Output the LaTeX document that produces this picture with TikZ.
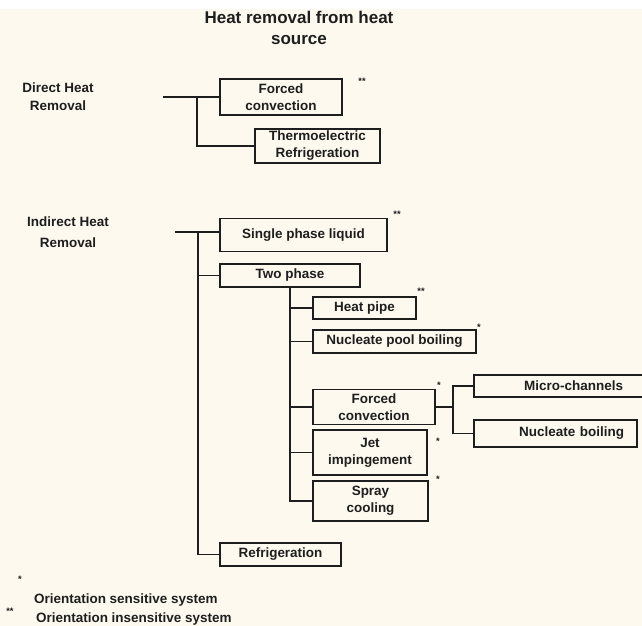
\documentclass[tikz,border=0pt]{standalone}
\usepackage{fontspec}
\setmainfont{Liberation Sans}
\usetikzlibrary{positioning}
\definecolor{paper}{RGB}{253,249,238}
\definecolor{ink}{RGB}{30,30,30}

\begin{document}
\begin{tikzpicture}[x=0.03cm, y=-0.03cm, align=center, text=ink,
    font=\fontsize{11.5}{14.5}\selectfont\bfseries,
    box/.style={draw=ink, line width=1.3pt, inner sep=0pt},
    wire/.style={draw=ink, line width=1.3pt},
    starnote/.style={inner sep=0pt, font=\fontsize{8}{9}\selectfont\bfseries}]
    \def\u{0.03cm}
    \fill[white] (0,0) rectangle (642,626);
    \fill[paper] (0,9) rectangle (642,626);
    \useasboundingbox (0,0) rectangle (642,626);

    % title and group labels
    \node[font=\fontsize{14.5}{18}\selectfont\bfseries] (title) at (299,28) {Heat removal from heat\\source};
    \node[font=\fontsize{11.5}{15.3}\selectfont\bfseries] (direct) at (58,97) {Direct Heat\\Removal};
    \node[font=\fontsize{11.5}{18}\selectfont\bfseries] (indirect) at (68,232) {Indirect Heat\\Removal};

    % direct heat removal
    \node[box, minimum width=122*\u, minimum height=36*\u] (fcd) at (281,97) {Forced\\convection};
    \node[box, minimum width=125*\u, minimum height=34*\u] (te) at (317.5,146) {Thermoelectric\\Refrigeration};

    % indirect heat removal
    \node[box, minimum width=167*\u, minimum height=33*\u] (spl) at (303.5,235) {Single phase liquid};
    \node[box, minimum width=140*\u, minimum height=23*\u] (tp) at (290,275.5) {Two phase};
    \node[box, minimum width=103*\u, minimum height=22*\u] (hp) at (364.5,308) {Heat pipe};
    \node[box, minimum width=163*\u, minimum height=23*\u] (npb) at (394.5,341.5) {Nucleate pool boiling};
    \node[box, minimum width=122*\u, minimum height=35*\u] (fc) at (374,407) {Forced\\convection};
    \node[box, minimum width=114*\u, minimum height=45*\u] (jet) at (370,452.5) {Jet\\impingement};
    \node[box, minimum width=115*\u, minimum height=40*\u] (spray) at (370.5,501) {Spray\\cooling};
    \node[box, text width=127*\u, inner xsep=22*\u, minimum height=22*\u, align=right] (micro) at (559.5,386) {Micro-channels};
    \node[box, text width=137*\u, inner xsep=13*\u, minimum height=27*\u, align=right] (nb) at (555.5,433.5) {Nucleate boiling};
    \node[box, minimum width=121*\u, minimum height=23*\u] (refr) at (280.5,554.5) {Refrigeration};

    % connectors
    \coordinate (dir) at (163,97);
    \coordinate (dirj) at (197,97);
    \draw[wire] (dir) -- (dir -| fcd.west);
    \draw[wire] (dirj) |- (te.west);
    \coordinate (ind) at (175,232);
    \coordinate (indj) at (198,232);
    \draw[wire] (ind) -- (ind -| spl.west);
    \draw[wire] (indj) |- (tp.west);
    \draw[wire] (indj) |- (refr.west);
    \draw[wire] (tp.south) |- (hp.west);
    \draw[wire] (tp.south) |- (npb.west);
    \draw[wire] (tp.south) |- (fc.west);
    \draw[wire] (tp.south) |- (jet.west);
    \draw[wire] (tp.south) |- (spray.west);
    \draw[wire] (fc.east) -- ++(17,0) coordinate (fcj);
    \draw[wire] (fcj) |- (micro.west);
    \draw[wire] (fcj) |- (nb.west);

    % orientation marks
    \node[starnote] (s1) at (362,81) {**};
    \node[starnote] (s2) at (397,214) {**};
    \node[starnote] (s3) at (421,291) {**};
    \node[starnote] (s4) at (479,327) {*};
    \node[starnote] (s5) at (439,385) {*};
    \node[starnote] (s6) at (438,441) {*};
    \node[starnote] (s7) at (438,479) {*};

    % footnotes
    \node[anchor=west] (fnone) at (30,600) {Orientation sensitive system};
    \node[anchor=west] (fntwo) at (32,619) {Orientation insensitive system};
    \node[starnote] (s8) at (20,579) {*};
    \node[starnote] (s9) at (10,611) {**};
\end{tikzpicture}
\end{document}
